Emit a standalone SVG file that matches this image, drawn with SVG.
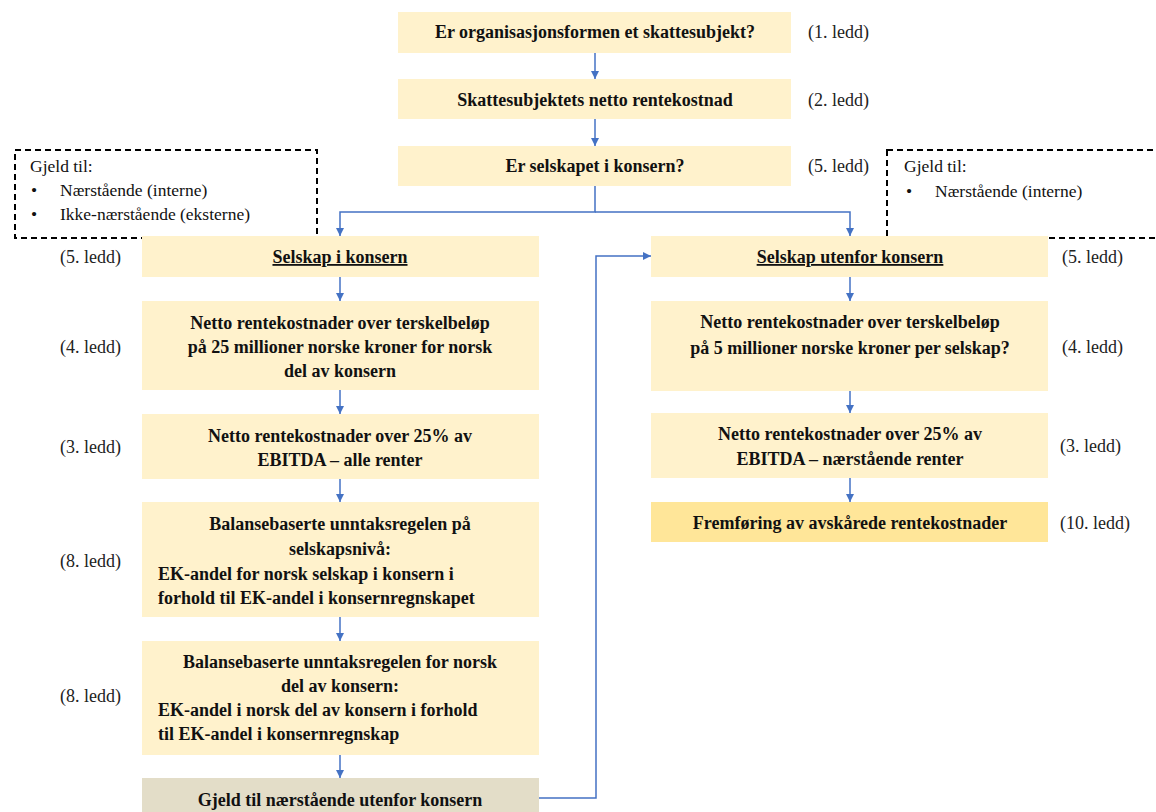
<svg xmlns="http://www.w3.org/2000/svg" width="1156" height="812" viewBox="0 0 1156 812">
  <defs>
    <marker id="arrow" viewBox="0 0 10 10" refX="10" refY="5" markerWidth="8" markerHeight="8" markerUnits="userSpaceOnUse" orient="auto">
      <path d="M0,0 L10,5 L0,10 z" fill="#4472C4"/>
    </marker>
  </defs>
  <rect width="1156" height="812" fill="#fff"/>

  <!-- dashed notes -->
  <g font-family="'Liberation Serif', Tinos, 'Times New Roman', serif" font-size="17.5" fill="#111">
    <g id="note-left">
      <rect x="15" y="150" width="302" height="88" fill="#fff" stroke="#000" stroke-width="2" stroke-dasharray="6 4"/>
      <text x="30" y="172">Gjeld til:</text>
      <text x="31" y="196">•</text>
      <text x="60" y="196">Nærstående (interne)</text>
      <text x="31" y="220">•</text>
      <text x="60" y="220">Ikke-nærstående (eksterne)</text>
    </g>
    <g id="note-right">
      <rect x="887" y="150" width="290" height="88" fill="#fff" stroke="#000" stroke-width="2" stroke-dasharray="6 4"/>
      <text x="904" y="172">Gjeld til:</text>
      <text x="906" y="197">•</text>
      <text x="935" y="197">Nærstående (interne)</text>
    </g>
  </g>

  <!-- connectors -->
  <g id="connectors" fill="none" stroke="#4472C4" stroke-width="1.5">
    <path d="M595,53 V79" marker-end="url(#arrow)"/>
    <path d="M595,119 V146" marker-end="url(#arrow)"/>
    <path d="M595,186 V212 H340 V236" marker-end="url(#arrow)"/>
    <path d="M595,212 H850 V236" marker-end="url(#arrow)"/>
    <path d="M340,277 V301" marker-end="url(#arrow)"/>
    <path d="M340,390 V414" marker-end="url(#arrow)"/>
    <path d="M340,479 V502" marker-end="url(#arrow)"/>
    <path d="M340,617 V641" marker-end="url(#arrow)"/>
    <path d="M340,755 V778" marker-end="url(#arrow)"/>
    <path d="M539,798 H596 V256 H651" marker-end="url(#arrow)"/>
    <path d="M850,277 V301" marker-end="url(#arrow)"/>
    <path d="M850,391 V413" marker-end="url(#arrow)"/>
    <path d="M850,478 V502" marker-end="url(#arrow)"/>
  </g>

  <!-- flow boxes: bold centred titles, regular "(n. ledd)" references -->
  <g font-family="'Liberation Serif', Tinos, 'Times New Roman', serif" font-size="18">
    <g id="n1">
      <rect x="398" y="12" width="393" height="41" fill="#FFF2CC"/>
      <text x="595" y="38" font-weight="bold" text-anchor="middle" fill="#111">Er organisasjonsformen et skattesubjekt?</text>
      <text x="808" y="38" fill="#222">(1. ledd)</text>
    </g>
    <g id="n2">
      <rect x="398" y="79" width="393" height="40" fill="#FFF2CC"/>
      <text x="595" y="106" font-weight="bold" text-anchor="middle" fill="#111">Skattesubjektets netto rentekostnad</text>
      <text x="808" y="106" fill="#222">(2. ledd)</text>
    </g>
    <g id="n3">
      <rect x="398" y="146" width="393" height="40" fill="#FFF2CC"/>
      <text x="595" y="172" font-weight="bold" text-anchor="middle" fill="#111">Er selskapet i konsern?</text>
      <text x="808" y="172" fill="#222">(5. ledd)</text>
    </g>

    <!-- left column -->
    <g id="l1">
      <rect x="142" y="236" width="397" height="41" fill="#FFF2CC"/>
      <text x="340" y="263" font-weight="bold" text-anchor="middle" fill="#111" text-decoration="underline">Selskap i konsern</text>
      <text x="60" y="263" fill="#222">(5. ledd)</text>
    </g>
    <g id="l2">
      <rect x="142" y="301" width="397" height="89" fill="#FFF2CC"/>
      <g font-weight="bold" text-anchor="middle" fill="#111">
        <text x="340" y="329">Netto rentekostnader over terskelbeløp</text>
        <text x="340" y="353">på 25 millioner norske kroner for norsk</text>
        <text x="340" y="377">del av konsern</text>
      </g>
      <text x="60" y="353" fill="#222">(4. ledd)</text>
    </g>
    <g id="l3">
      <rect x="142" y="414" width="397" height="65" fill="#FFF2CC"/>
      <g font-weight="bold" text-anchor="middle" fill="#111">
        <text x="340" y="442">Netto rentekostnader over 25% av</text>
        <text x="340" y="466">EBITDA – alle renter</text>
      </g>
      <text x="60" y="453" fill="#222">(3. ledd)</text>
    </g>
    <g id="l4">
      <rect x="142" y="502" width="397" height="115" fill="#FFF2CC"/>
      <g font-weight="bold" fill="#111">
        <text x="340" y="530" text-anchor="middle">Balansebaserte unntaksregelen på</text>
        <text x="340" y="555" text-anchor="middle">selskapsnivå:</text>
        <text x="158" y="580">EK-andel for norsk selskap i konsern i</text>
        <text x="158" y="604">forhold til EK-andel i konsernregnskapet</text>
      </g>
      <text x="60" y="567" fill="#222">(8. ledd)</text>
    </g>
    <g id="l5">
      <rect x="142" y="641" width="397" height="114" fill="#FFF2CC"/>
      <g font-weight="bold" fill="#111">
        <text x="340" y="668" text-anchor="middle">Balansebaserte unntaksregelen for norsk</text>
        <text x="340" y="692" text-anchor="middle">del av konsern:</text>
        <text x="158" y="716">EK-andel i norsk del av konsern i forhold</text>
        <text x="158" y="740">til EK-andel i konsernregnskap</text>
      </g>
      <text x="60" y="702" fill="#222">(8. ledd)</text>
    </g>
    <g id="l6">
      <rect x="142" y="778" width="397" height="40" fill="#E3DDC8"/>
      <text x="340" y="806" font-weight="bold" text-anchor="middle" fill="#111">Gjeld til nærstående utenfor konsern</text>
    </g>

    <!-- right column -->
    <g id="r1">
      <rect x="651" y="236" width="397" height="41" fill="#FFF2CC"/>
      <text x="850" y="263" font-weight="bold" text-anchor="middle" fill="#111" text-decoration="underline">Selskap utenfor konsern</text>
      <text x="1062" y="263" fill="#222">(5. ledd)</text>
    </g>
    <g id="r2">
      <rect x="651" y="301" width="397" height="90" fill="#FFF2CC"/>
      <g font-weight="bold" text-anchor="middle" fill="#111">
        <text x="850" y="328">Netto rentekostnader over terskelbeløp</text>
        <text x="850" y="354">på 5 millioner norske kroner per selskap?</text>
      </g>
      <text x="1062" y="353" fill="#222">(4. ledd)</text>
    </g>
    <g id="r3">
      <rect x="651" y="413" width="397" height="65" fill="#FFF2CC"/>
      <g font-weight="bold" text-anchor="middle" fill="#111">
        <text x="850" y="440">Netto rentekostnader over 25% av</text>
        <text x="850" y="465">EBITDA – nærstående renter</text>
      </g>
      <text x="1060" y="452" fill="#222">(3. ledd)</text>
    </g>
    <g id="r4">
      <rect x="651" y="502" width="397" height="40" fill="#FFE699"/>
      <text x="850" y="529" font-weight="bold" text-anchor="middle" fill="#111">Fremføring av avskårede rentekostnader</text>
      <text x="1060" y="529" fill="#222">(10. ledd)</text>
    </g>
  </g>
</svg>
